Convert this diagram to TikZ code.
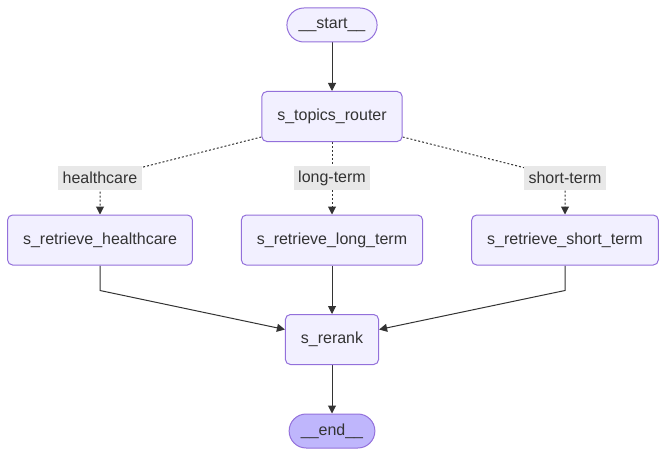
\documentclass[tikz,border=0pt]{standalone}
\usepackage{fontspec}
\setmainfont{Liberation Sans}
\usetikzlibrary{arrows.meta,backgrounds}
\definecolor{nodefill}{HTML}{F2F0FF}
\definecolor{nodeline}{HTML}{9370DB}
\definecolor{endfill}{HTML}{BFB6FC}
\definecolor{labelfill}{HTML}{E8E8E8}
\definecolor{ink}{HTML}{333333}

\begin{document}
\begin{tikzpicture}[x=0.75pt,y=-0.75pt,
            every node/.style={font=\fontsize{12}{14}\selectfont,text=ink},
            box/.style={draw=nodeline,fill=nodefill,line width=0.75pt,
                rounded corners=3.75pt,minimum height=37.5pt,inner xsep=11.6pt},
            term/.style={draw=nodeline,fill=nodefill,line width=0.75pt,
                rounded corners=12.75pt,minimum height=25.5pt,inner xsep=8.8pt},
            edgelabel/.style={fill=labelfill,inner xsep=3.2pt,inner ysep=0pt,
                minimum height=18pt},
            flow/.style={draw=ink,line width=0.75pt,-{Triangle[length=6pt,width=6pt]}},
            cond/.style={flow,dash pattern=on 1.5pt off 1.5pt}]
            \useasboundingbox (0,0) rectangle (666,456);

            \node[term] (start) at (332,25) {\_\_start\_\_};
            \node[box] (router) at (332,116.5) {s\_topics\_router};
            \node[edgelabel] (lhealth) at (100,178) {healthcare};
            \node[edgelabel] (llong) at (332,178) {long-term};
            \node[edgelabel] (lshort) at (565,178) {short-term};
            \node[box] (health) at (100,240) {s\_retrieve\_healthcare};
            \node[box] (long) at (332,240) {s\_retrieve\_long\_term};
            \node[box] (short) at (565,240) {s\_retrieve\_short\_term};
            \node[box] (rerank) at (332,339.5) {s\_rerank};
            \node[term,fill=endfill] (stop) at (332,431) {\_\_end\_\_};

            \begin{scope}[on background layer]
                \draw[flow] (start) -- (router);
                \draw[cond] ([yshift=3.75pt]router.south west) -- (lhealth.center) -- (health);
                \draw[cond] (router) -- (llong.center) -- (long);
                \draw[cond] ([yshift=3.75pt]router.south east) -- (lshort.center) -- (short);
                \draw[flow] (health.south) -- ++(0,25) -- ([yshift=7.5pt]rerank.west);
                \draw[flow] (long) -- (rerank);
                \draw[flow] (short.south) -- ++(0,25) -- ([yshift=7.5pt]rerank.east);
                \draw[flow] (rerank) -- (stop);
            \end{scope}
        \end{tikzpicture}
\end{document}
